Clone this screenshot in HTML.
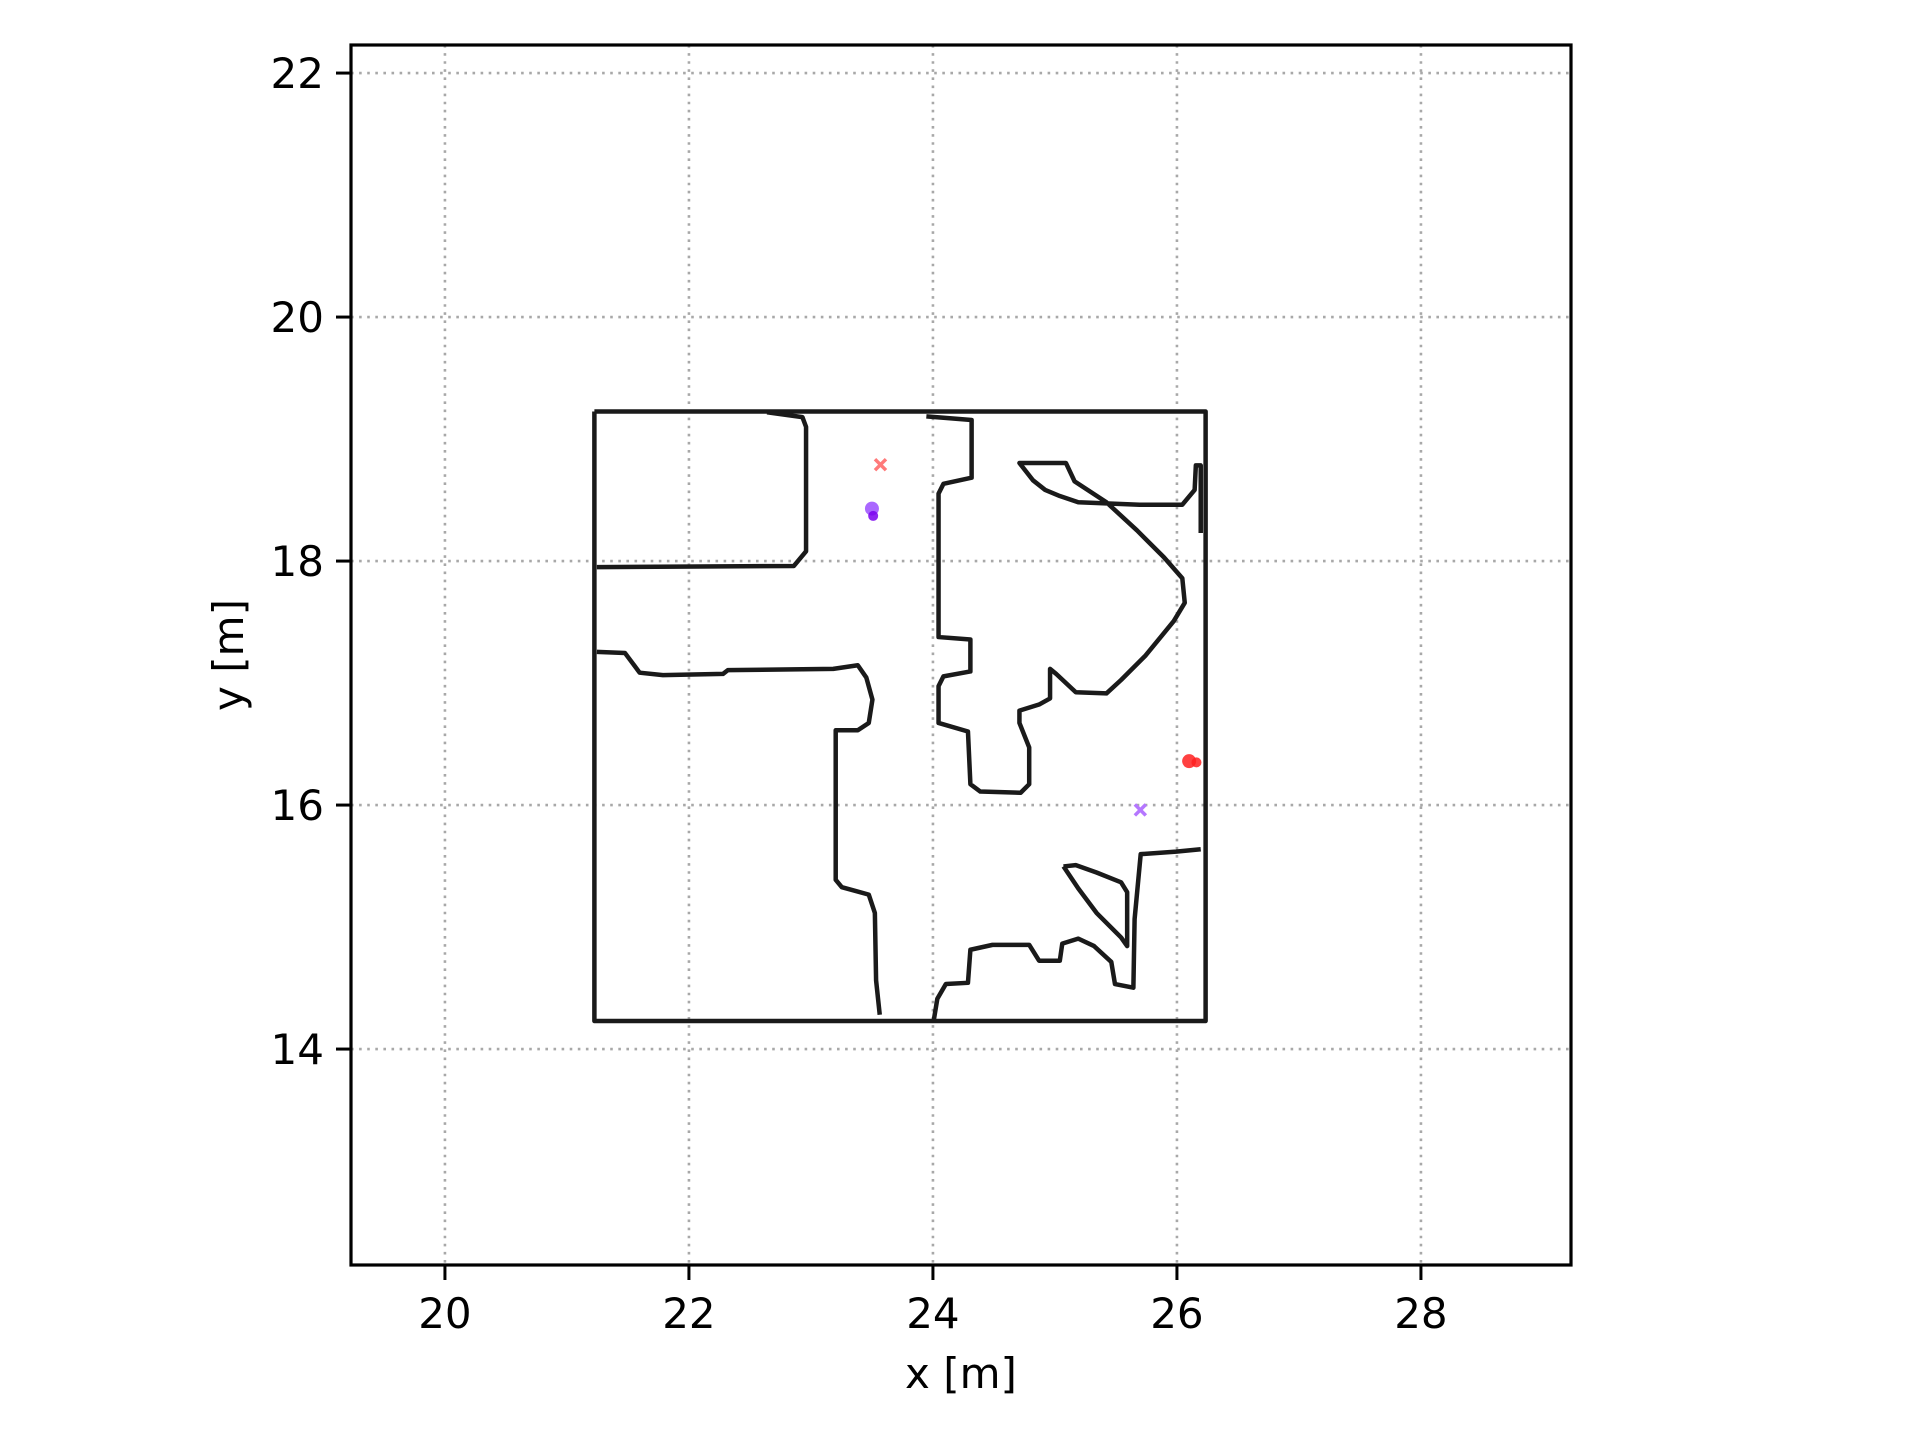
<!DOCTYPE html>
<html><head><meta charset="utf-8"><style>
body{margin:0;background:#fff;}
svg{display:block;font-family:"DejaVu Sans","Liberation Sans",sans-serif;}
</style></head><body>
<svg id="chart" width="1920" height="1440" viewBox="0 0 1920 1440" xmlns="http://www.w3.org/2000/svg">
<rect width="1920" height="1440" fill="#fff"/>
<g id="grid"></g>
<g id="walls"></g>
<g id="marks"></g>
<rect x="351" y="45" width="1220" height="1220" fill="none" stroke="#000" stroke-width="3.2"/>
<g id="ticks"></g>
<text x="961" y="1388" font-size="42" text-anchor="middle">x [m]</text>
<text transform="translate(243,655) rotate(-90)" font-size="42" text-anchor="middle">y [m]</text>
</svg>
<script>
const xTicks=[20,22,24,26,28];
const yTicks=[14,16,18,20,22];
const walls=[
 [[21.225,19.226],[26.235,19.226],[26.235,14.23],[21.225,14.23],[21.225,19.226]],
 [[22.64,19.22],[22.93,19.18],[22.96,19.1],[22.96,18.08],[22.86,17.96],[21.245,17.95]],
 [[21.245,17.256],[21.476,17.246],[21.596,17.085],[21.787,17.065],[22.279,17.075],[22.319,17.106],[23.183,17.116],[23.384,17.146],[23.454,17.045],[23.504,16.864],[23.474,16.673],[23.384,16.613],[23.203,16.613],[23.203,15.387],[23.253,15.327],[23.474,15.266],[23.524,15.116],[23.534,14.563],[23.564,14.281]],
 [[23.946,19.186],[24.317,19.156],[24.317,18.683],[24.086,18.633],[24.046,18.553],[24.046,17.377],[24.307,17.357],[24.307,17.095],[24.086,17.055],[24.046,16.975],[24.046,16.673],[24.287,16.603],[24.307,16.171],[24.388,16.111],[24.719,16.101],[24.789,16.171],[24.789,16.472],[24.709,16.673],[24.709,16.774],[24.870,16.824],[24.960,16.874],[24.960,17.116],[25.010,17.075],[25.171,16.925],[25.422,16.915],[25.542,17.025],[25.743,17.226],[25.974,17.508],[26.064,17.658],[26.044,17.859],[25.894,18.030],[25.673,18.251],[25.422,18.482],[25.161,18.653],[25.090,18.804],[24.709,18.804],[24.819,18.663],[24.920,18.583],[25.040,18.533],[25.191,18.482],[25.693,18.462],[26.044,18.462],[26.145,18.583],[26.155,18.784],[26.195,18.784],[26.195,18.23]],
 [[24.006,14.231],[24.036,14.412],[24.106,14.533],[24.287,14.543],[24.307,14.814],[24.488,14.854],[24.789,14.854],[24.870,14.724],[25.040,14.724],[25.060,14.864],[25.191,14.905],[25.321,14.844],[25.462,14.714],[25.492,14.533],[25.643,14.503],[25.653,15.065],[25.703,15.598],[25.994,15.618],[26.195,15.638]],
 [[25.070,15.497],[25.171,15.508],[25.341,15.447],[25.542,15.367],[25.592,15.286],[25.592,14.844],[25.542,14.915],[25.341,15.116],[25.191,15.317],[25.070,15.497]]
];
const crossX=[23.57,25.70];
const crossY=[18.79,15.96];
const crossColors=["#ff7a7a","#b577ff"];
const dotX=[23.50,23.51,26.10,26.16];
const dotY=[18.43,18.37,16.36,16.35];
const dotColors=["#9b4dff","#7a00ee","#ff2020","#ff2020"];
const X0=351,Y0=45,W=1220,H=1220,xmin=19.23,xmax=29.23,ymin=12.23,ymax=22.23;
const sx=v=>X0+(v-xmin)/(xmax-xmin)*W;
const sy=v=>Y0+(ymax-v)/(ymax-ymin)*H;
const NS="http://www.w3.org/2000/svg";
function mk(tag,attrs,parent){const e=document.createElementNS(NS,tag);for(const k in attrs)e.setAttribute(k,attrs[k]);document.getElementById(parent).appendChild(e);return e;}
xTicks.forEach(t=>{
 const g=mk('line',{x1:sx(t),x2:sx(t),y1:Y0,y2:Y0+H,stroke:'#a8a8a8','stroke-width':2.6,'stroke-dasharray':'2.6 5.5'},'grid');
 
 
 const tk=mk('line',{x1:sx(t),x2:sx(t),y1:Y0+H,y2:Y0+H+15,stroke:'#000','stroke-width':3},'ticks');
 
 
 const tl=mk('text',{x:sx(t),y:1328,'font-size':42,'text-anchor':'middle'},'ticks');
 tl.textContent=t;
 
 
});
yTicks.forEach(t=>{
 const g=mk('line',{x1:X0,x2:X0+W,y1:sy(t),y2:sy(t),stroke:'#a8a8a8','stroke-width':2.6,'stroke-dasharray':'2.6 5.5'},'grid');
 
 
 const tk=mk('line',{x1:X0-15,x2:X0,y1:sy(t),y2:sy(t),stroke:'#000','stroke-width':3},'ticks');
 
 
 const tl=mk('text',{x:324,y:sy(t)+15,'font-size':42,'text-anchor':'end'},'ticks');
 tl.textContent=t;
 
 
});
walls.forEach(w=>{
 const p=mk('polyline',{points:w.map(q=>sx(q[0])+','+sy(q[1])).join(' '),fill:'none',stroke:'#1a1a1a','stroke-width':4.5,'stroke-linejoin':'round'},'walls');
 
 
});
crossX.forEach((x,i)=>{
 const cx=sx(x),cy=sy(crossY[i]),r=5.5;
 const p=mk('path',{d:`M${cx-r},${cy-r}L${cx+r},${cy+r}M${cx-r},${cy+r}L${cx+r},${cy-r}`,stroke:crossColors[i],'stroke-width':3.5},'marks');
 
 
});
dotX.forEach((x,i)=>{
 const c=mk('circle',{cx:sx(x),cy:sy(dotY[i]),r:i%2===0?7:5,fill:dotColors[i],opacity:0.85},'marks');
 
 
});
</script>
</body></html>
